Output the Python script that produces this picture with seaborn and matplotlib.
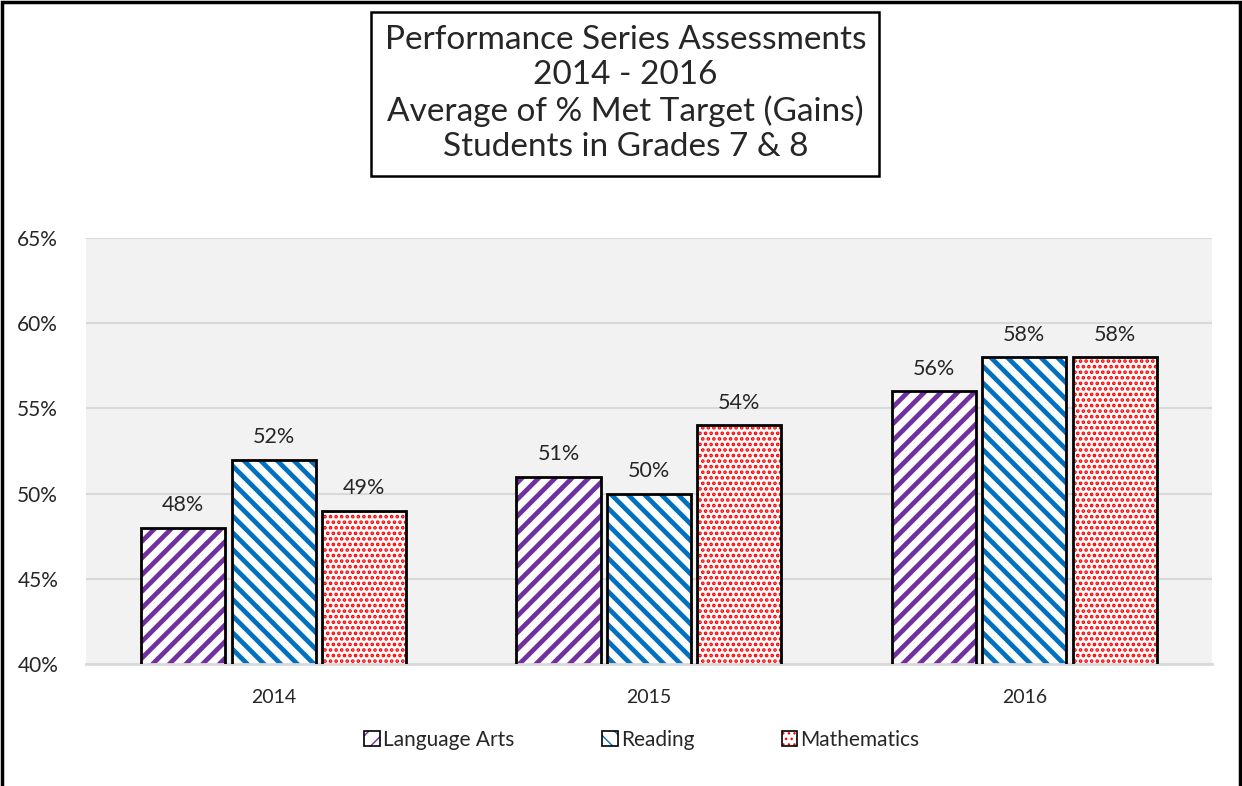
import pandas as pd
import seaborn as sns
import matplotlib.pyplot as plt
from matplotlib.patches import Patch, Rectangle
from matplotlib.ticker import FuncFormatter

years = ["2014", "2015", "2016"]
subjects = ["Language Arts", "Reading", "Mathematics"]
language_arts = [48, 51, 56]
reading = [52, 50, 58]
mathematics = [49, 54, 58]

colors = ["#7030A0", "#0070C0", "#FF0000"]
hatches = ["//", "\\\\", "..."]
hatch_widths = [3.4, 3.4, 1.8]

title = ("Performance Series Assessments\n2014 - 2016\n"
         "Average of % Met Target (Gains)\nStudents in Grades 7 & 8")

# long table for seaborn
rows = []
for subj, vals in zip(subjects, [language_arts, reading, mathematics]):
    for yr, v in zip(years, vals):
        rows.append({"Year": yr, "Subject": subj, "Score": v})
df = pd.DataFrame(rows)

sns.set_style("white")
plt.rcParams['font.family'] = ['Lato', 'DejaVu Sans']

fig = plt.figure(figsize=(12.42, 7.86), dpi=100)
ax = fig.add_axes([0.0692, 0.1552, 0.9066, 0.542])
ax.set_facecolor("#F2F2F2")

sns.barplot(data=df, x="Year", y="Score", hue="Subject", order=years,
            hue_order=subjects, palette=colors, width=0.723, gap=0.07,
            legend=False, ax=ax, zorder=2)

# restyle bars: white fill, coloured hatch, black outline on top
for cont, col, h, hw in zip(ax.containers, colors, hatches, hatch_widths):
    for bar in cont:
        bar.set_facecolor("white")
        bar.set_edgecolor(col)
        bar.set_hatch(h)
        bar.set_linewidth(0)
        if hasattr(bar, "set_hatch_linewidth"):
            bar.set_hatch_linewidth(hw)
        ax.add_patch(Rectangle(bar.get_xy(), bar.get_width(), bar.get_height(),
                               fill=False, ec="black", lw=2, zorder=3))
    ax.bar_label(cont, labels=[f"{int(v)}%" for v in cont.datavalues],
                 padding=9, fontsize=15.5)

ax.set_ylim(40, 65)
ax.set_yticks(range(40, 66, 5))
ax.yaxis.set_major_formatter(FuncFormatter(lambda v, p: f"{int(v)}%"))
ax.grid(axis="y", color="#D9D9D9", lw=1.5, zorder=0)
ax.set_axisbelow(True)
for s in ["top", "right", "left"]:
    ax.spines[s].set_visible(False)
ax.spines["bottom"].set_color("#D9D9D9")
ax.spines["bottom"].set_linewidth(2)
ax.tick_params(axis="both", length=0)
ax.tick_params(axis="y", pad=20, labelsize=15)
ax.tick_params(axis="x", pad=18, labelsize=14)
ax.set_xlabel("")
ax.set_ylabel("")

# legend: coloured hatch with black outline drawn over it
handles = []
for c, h in zip(colors, hatches):
    fillp = Patch(facecolor="white", edgecolor=c, hatch=h, lw=0)
    edge = Patch(fill=False, edgecolor="black", lw=1.2)
    handles.append((fillp, edge))
fig.legend(handles, subjects, loc="center", bbox_to_anchor=(0.517, 0.0585),
           ncol=3, frameon=False, fontsize=15, handlelength=0.75,
           handleheight=0.75, handletextpad=0.15, columnspacing=4.2)

fig.text(0.5035, 0.8805, title, ha="center", va="center", fontsize=24,
         linespacing=1.21,
         bbox=dict(boxstyle="square,pad=0.4", fc="white", ec="black", lw=1.8))

# outer border of the chart
fig.patches.append(Rectangle((0.002, -0.02), 0.996, 1.017, fill=False,
                             ec="black", lw=2.5, transform=fig.transFigure))

fig.savefig("out.png", dpi=100)
